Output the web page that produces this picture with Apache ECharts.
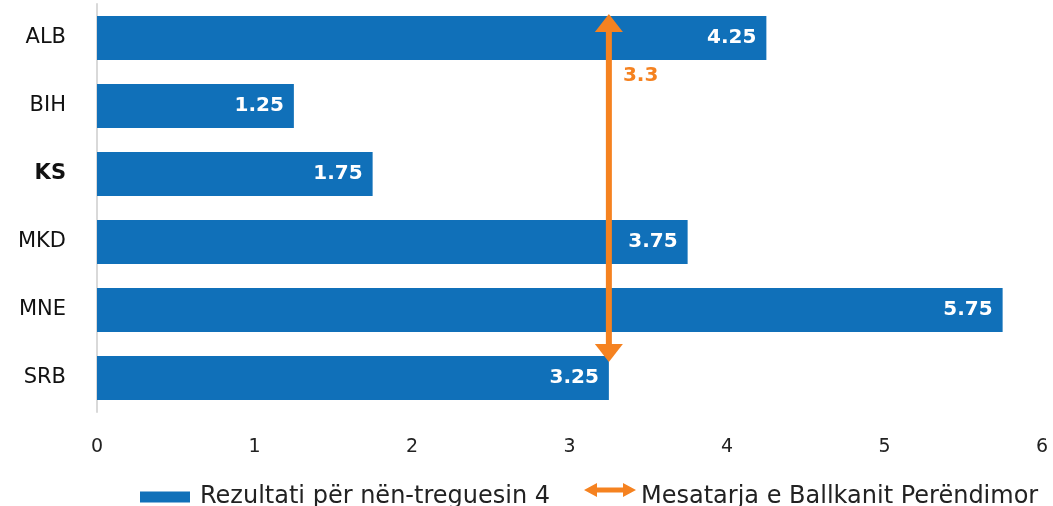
<!DOCTYPE html>
<html>
<head>
<meta charset="utf-8">
<script src="https://cdn.jsdelivr.net/npm/echarts@6/dist/echarts.min.js"></script>
<style>html,body{margin:0;padding:0;background:#fff}#c{width:1053px;height:506px}</style>
</head>
<body>
<div id="c"></div>
<script>
const categories = ['ALB', 'BIH', 'KS', 'MKD', 'MNE', 'SRB'];
const values = [4.25, 1.25, 1.75, 3.75, 5.75, 3.25];
const averageValue = [3.25];
const xTicks = [0, 1, 2, 3, 4, 5, 6];
const seriesNames = ['Rezultati për nën-treguesin 4', 'Mesatarja e Ballkanit Perëndimor'];

const BLUE = '#1070B9';
const ORANGE = '#F58220';
const FONT = '"DejaVu Sans", "Open Sans", sans-serif';

const chart = echarts.init(document.getElementById('c'));
chart.setOption({
  animation: false,
  textStyle: { fontFamily: FONT },
  grid: { left: 97, right: 11, top: 4, height: 408 },
  xAxis: {
    type: 'value', min: xTicks[0], max: xTicks[xTicks.length - 1], interval: 1,
    axisLine: { show: false }, axisTick: { show: false }, splitLine: { show: false },
    axisLabel: { color: '#222', fontSize: 19, margin: 26, fontFamily: FONT }
  },
  yAxis: {
    type: 'category', data: categories, inverse: true,
    axisLine: { show: true, lineStyle: { color: '#d9d9d9', width: 2 } },
    axisTick: { show: false },
    axisLabel: {
      color: '#111', fontSize: 21, margin: 31, fontFamily: FONT,
      formatter: v => v === 'KS' ? '{b|' + v + '}' : v,
      rich: { b: { fontWeight: 'bold', fontSize: 21, color: '#111', fontFamily: FONT } }
    }
  },
  legend: [
    {
      data: [{ name: seriesNames[0], icon: 'rect' }],
      left: 140, top: 485, padding: 0, itemWidth: 50, itemHeight: 11, itemGap: 10,
      textStyle: { fontSize: 24, color: '#222', fontFamily: FONT, padding: [0, 0, 0, 5] }
    },
    {
      data: [{ name: seriesNames[1], icon: 'path://M0,28 M0,7 L13,0 L13,4.5 L39,4.5 L39,0 L52,7 L39,14 L39,9.5 L13,9.5 L13,14 Z' }],
      left: 584, top: 483, padding: 0, itemWidth: 52, itemHeight: 28, itemGap: 4,
      textStyle: { fontSize: 24, color: '#222', fontFamily: FONT }
    }
  ],
  series: [
    {
      name: seriesNames[0], type: 'bar', data: values, barCategoryGap: '35%', z: 2,
      itemStyle: { color: BLUE },
      label: {
        show: true, position: 'insideRight', distance: 10,
        color: '#fff', fontWeight: 'bold', fontSize: 20, fontFamily: FONT,
        formatter: p => p.value.toFixed(2)
      }
    },
    {
      name: seriesNames[1], type: 'custom', data: averageValue, z: 10,
      itemStyle: { color: ORANGE },
      encode: { x: 0 },
      renderItem: function (params, api) {
        const v = api.value(0);
        const band = api.size([0, 1])[1];
        const x = api.coord([v, categories[0]])[0];
        const yTopC = api.coord([v, categories[0]])[1];
        const yBotC = api.coord([v, categories[categories.length - 1]])[1];
        const top = yTopC - band * 0.353;
        const bot = yBotC - band * 0.235;
        const hw = 14, hh = 18, sw = 3;
        return {
          type: 'group',
          children: [
            { type: 'rect', shape: { x: x - sw, y: top + hh - 1, width: sw * 2, height: bot - top - 2 * hh + 2 }, style: { fill: ORANGE } },
            { type: 'polygon', shape: { points: [[x, top], [x - hw, top + hh], [x + hw, top + hh]] }, style: { fill: ORANGE } },
            { type: 'polygon', shape: { points: [[x, bot], [x - hw, bot - hh], [x + hw, bot - hh]] }, style: { fill: ORANGE } },
            { type: 'text', style: { text: v.toFixed(1), x: x + 14, y: yTopC + band * 0.56, fill: ORANGE, font: 'bold 20px ' + FONT, verticalAlign: 'middle' } }
          ]
        };
      }
    }
  ]
});
</script>
</body>
</html>
